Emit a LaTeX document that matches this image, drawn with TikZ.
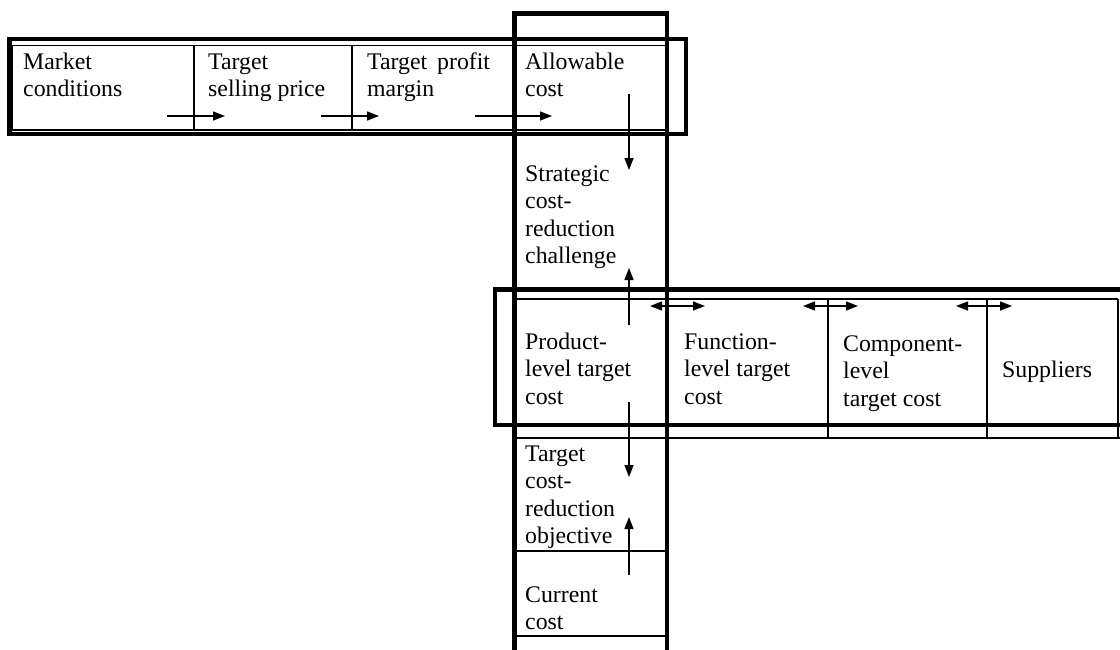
\documentclass[tikz,border=0pt]{standalone}
\usepackage{fontspec}
\setmainfont{Liberation Serif}
\usetikzlibrary{arrows.meta}
\begin{document}
\begin{tikzpicture}[x=1pt,y=-1pt,
  thickbox/.style={line width=4.5pt},
  thinline/.style={line width=1.4pt},
  arr/.style={line width=1.4pt,-{Triangle[length=12pt,width=9pt]}},
  darr/.style={line width=1.4pt,{Triangle[length=12pt,width=9pt]}-{Triangle[length=12pt,width=9pt]}},
  lbl/.style={anchor=north west,yshift=19.18pt,inner sep=0pt,align=left,font=\fontsize{23.8}{27.4}\selectfont}]
\useasboundingbox (0,0) rectangle (1120,649);
\clip (0,0) rectangle (1120,649);

% thin table lines
\draw[thinline] (12.5,45.5) rectangle (667,130);
\draw[thinline] (194,45.5) -- (194,130);
\draw[thinline] (352,45.5) -- (352,130);
\draw[thinline] (514.5,45.5) -- (514.5,660);
\draw[thinline] (667,45.5) -- (667,660);
\draw[thinline] (514.5,299) -- (1118,299);
\draw[thinline] (514.5,438) -- (1120,438);
\draw[thinline] (828,299) -- (828,438);
\draw[thinline] (987,299) -- (987,438);
\draw[thinline] (1118,299) -- (1118,438);
\draw[thinline] (514.5,551) -- (667,551);
\draw[thinline] (514.5,636) -- (667,636);

% thick frames
\draw[thickbox] (9.5,39) rectangle (686,134);
\draw[thickbox] (514.5,13.7) rectangle (667,700);
\draw[thickbox] (495,289.5) rectangle (1140,425);

% labels (coordinates are first-line baselines)
\node[lbl] (mc)  at (23,69)   {\strut Market\\conditions};
\node[lbl] (tsp) at (208,69)  {\strut Target\\selling price};
\node[lbl] (tpm) at (367,69)  {\strut Target\hspace{10pt}profit\\margin};
\node[lbl] (ac)  at (525,69)  {\strut Allowable\\cost};
\node[lbl] (sc)  at (525,181) {\strut Strategic\\cost-\\reduction\\challenge};
\node[lbl] (plt) at (525,349) {\strut Product-\\level target\\cost};
\node[lbl] (flt) at (684,349) {\strut Function-\\level target\\cost};
\node[lbl] (clt) at (843,351) {\strut Component-\\level\\target cost};
\node[lbl] (sup) at (1002,377) {\strut Suppliers};
\node[lbl] (tcro) at (525,461) {\strut Target\\cost-\\reduction\\objective};
\node[lbl] (cc)  at (525,602) {\strut Current\\cost};

% arrow end points
\coordinate (a1s) at (167,116); \coordinate (a1e) at (225,116);
\coordinate (a2s) at (321,116); \coordinate (a2e) at (379,116);
\coordinate (a3s) at (475,116); \coordinate (a3e) at (552,116);
\coordinate (v1s) at (629,94);  \coordinate (v1e) at (629,170);
\coordinate (v2s) at (629,325); \coordinate (v2e) at (629,268);
\coordinate (v3s) at (629,402); \coordinate (v3e) at (629,477);
\coordinate (v4s) at (629,575); \coordinate (v4e) at (629,517);
\coordinate (d1s) at (650,306); \coordinate (d1e) at (705,306);
\coordinate (d2s) at (803,306); \coordinate (d2e) at (858,306);
\coordinate (d3s) at (956,306); \coordinate (d3e) at (1012,306);

\draw[arr] (a1s) -- (a1e);
\draw[arr] (a2s) -- (a2e);
\draw[arr] (a3s) -- (a3e);
\draw[arr] (v1s) -- (v1e);
\draw[arr] (v2s) -- (v2e);
\draw[arr] (v3s) -- (v3e);
\draw[arr] (v4s) -- (v4e);
\draw[darr] (d1s) -- (d1e);
\draw[darr] (d2s) -- (d2e);
\draw[darr] (d3s) -- (d3e);
\end{tikzpicture}
\end{document}
